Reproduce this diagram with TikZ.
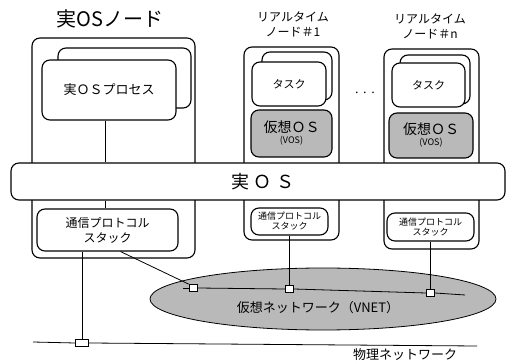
\documentclass[tikz,border=0pt]{standalone}
\usepackage{fontspec}
\usetikzlibrary{shapes.geometric}
\setmainfont{Liberation Serif}
\newfontfamily\jp{Noto Sans CJK JP}
\begin{document}
\begin{tikzpicture}[x=1pt,y=-1pt,
  box/.style={draw, line width=1.1pt, rounded corners=8pt, inner sep=0pt, fill=white},
  vosbox/.style={box, fill=gray!55},
  port/.style={draw, line width=0.8pt, fill=white, inner sep=0pt, minimum width=8pt, minimum height=7pt},
  ln/.style={line width=0.8pt},
  lbl/.style={font=\jp, inner sep=0pt, align=center}]
\useasboundingbox (0,0) rectangle (509,363);

% titles
\node[lbl, font=\jp\fontsize{20}{22}\selectfont] (t0) at (110,19) {実OSノード};
\node[lbl, font=\jp\fontsize{12}{15}\selectfont] (t1) at (293,24) {リアルタイム\\ノード＃1};
\node[lbl, font=\jp\fontsize{12}{15}\selectfont] (tn) at (430,26) {リアルタイム\\ノード＃n};
\node[lbl, font=\fontsize{14}{14}\selectfont] (dots) at (365,93) {. . .};

% real OS node
\node[box, minimum width=163pt, minimum height=220pt] (rn) at (113.5,148) {};
\node[box, minimum width=133pt, minimum height=60pt] (procb) at (124.5,78) {};
\node[box, minimum width=134pt, minimum height=60pt, font=\jp\fontsize{13}{15}\selectfont] (proc) at (109,90) {実ＯＳプロセス};
\node[box, minimum width=141pt, minimum height=42pt, align=center, font=\jp\fontsize{12}{15}\selectfont] (stk) at (107.5,230) {通信プロトコル\\スタック};

% real-time node 1
\node[box, minimum width=95pt, minimum height=193pt] (n1) at (291.5,143.5) {};
\node[box, minimum width=70pt, minimum height=48pt] (task1b) at (297,76) {};
\node[box, minimum width=74pt, minimum height=44pt, font=\jp\fontsize{11}{13}\selectfont] (task1) at (289,84) {タスク};
\node[vosbox, minimum width=81pt, minimum height=47pt, align=center, font=\jp\fontsize{14}{12}\selectfont] (vos1) at (291.5,133.5) {仮想ＯＳ\\[-1pt]{\fontsize{9}{10}\selectfont (VOS)}};
\node[box, minimum width=77pt, minimum height=27pt, align=center, font=\jp\fontsize{9}{10}\selectfont] (stk1) at (289.5,221.5) {通信プロトコル\\スタック};

% real-time node n
\node[box, minimum width=95pt, minimum height=200pt] (nn) at (431.5,149) {};
\node[box, minimum width=70pt, minimum height=49pt] (tasknb) at (435,79.5) {};
\node[box, minimum width=73pt, minimum height=44pt, font=\jp\fontsize{11}{13}\selectfont] (taskn) at (428.5,85) {タスク};
\node[vosbox, minimum width=84pt, minimum height=45pt, align=center, font=\jp\fontsize{14}{12}\selectfont] (vosn) at (431,135.5) {仮想ＯＳ\\[-1pt]{\fontsize{9}{10}\selectfont (VOS)}};
\node[box, minimum width=87pt, minimum height=28pt, align=center, font=\jp\fontsize{9}{10}\selectfont] (stkn) at (430.5,227) {通信プロトコル\\スタック};

% real OS bar
\node[box, minimum width=494pt, minimum height=37pt] (bar) at (258,181.5) {};
\node[lbl, font=\jp\fontsize{18}{20}\selectfont] (barl) at (263,182) {実 Ｏ Ｓ};
\draw[ln] ([xshift=-4pt]proc.south) -- ([xshift=-4pt]proc.south |- bar.north);
\draw[ln] ([xshift=-4pt]proc.south |- bar.south) -- ([xshift=-4pt]proc.south |- stk.north);

% virtual network
\node[draw, line width=0.8pt, fill=gray!55, ellipse, minimum width=346pt, minimum height=62pt, inner sep=0pt] (vnet) at (323,299) {};
\node[lbl, font=\jp\fontsize{13}{15}\selectfont] (vnetl) at (318,308) {仮想ネットワーク（VNET）};

% ports
\node[port] (r1) at (193,288) {};
\node[port] (r2) at (289.5,289) {};
\node[port] (r3) at (430.5,293) {};
\node[port, minimum width=13pt] (r0) at (82,343) {};
\coordinate (vl) at (183,288);
\coordinate (vr) at (465,295);
\coordinate (pl) at (33,342);
\coordinate (pr) at (477,346);

\draw[ln] (vl) -- (r1.west);
\draw[ln] (r1.east) -- (r2.west);
\draw[ln] (r2.east) -- (r3.west);
\draw[ln] (r3.east) -- (vr);
\draw[ln] (pl) -- (r0.west);
\draw[ln] (r0.east) -- (pr);

\draw[ln] (stk.south -| r0) -- (r0.north);
\draw[ln] ([xshift=13pt]stk.south) -- (r1.north west);
\draw[ln] (stk1.south -| r2) -- (r2.north);
\draw[ln] (stkn.south -| r3) -- (r3.north);

\node[lbl, font=\jp\fontsize{13}{15}\selectfont] (phys) at (405,355) {物理ネットワーク};
\end{tikzpicture}
\end{document}
